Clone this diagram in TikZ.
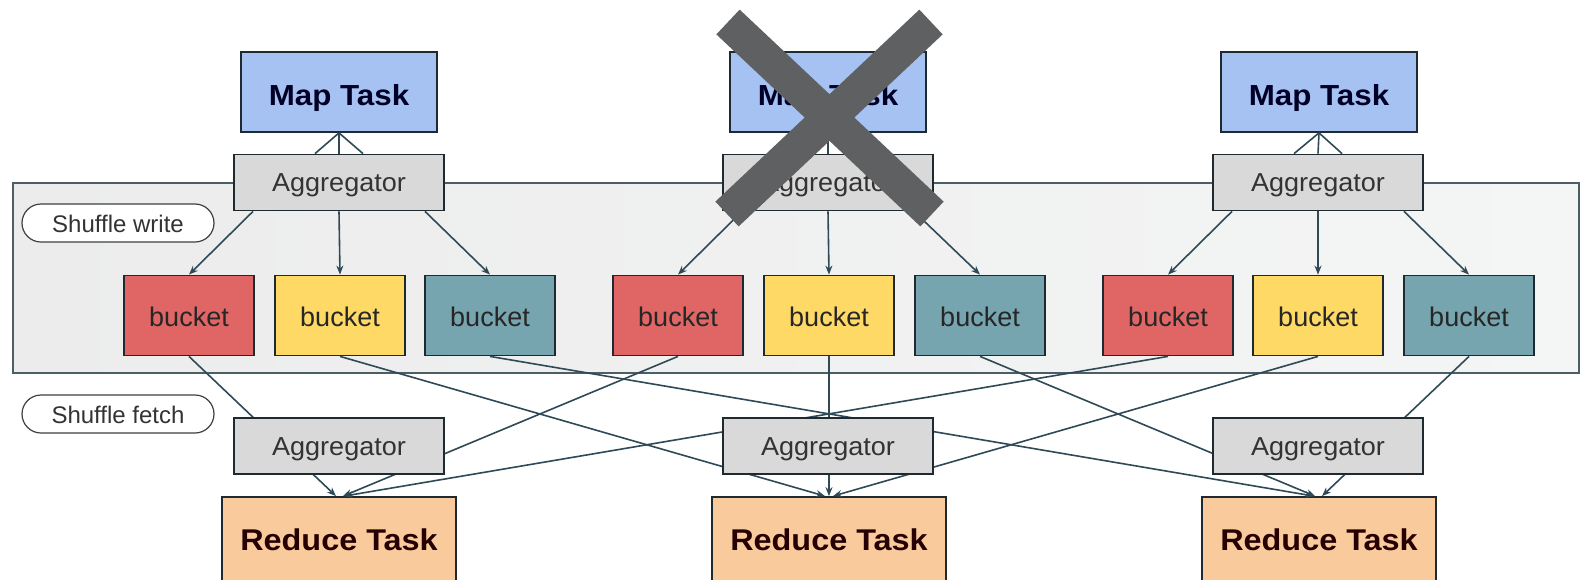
\documentclass[tikz,border=0pt]{standalone}
\usepackage{fontspec}
\setmainfont{Liberation Sans}
\newfontfamily\taskfont[FakeStretch=1.08]{Liberation Sans}
\newfontfamily\boxfont[FakeStretch=1.04]{Liberation Sans}
\usetikzlibrary{arrows.meta}

\definecolor{mapblue}{HTML}{A6C2F2}
\definecolor{agggray}{HTML}{D9D9D9}
\definecolor{bred}{HTML}{E06666}
\definecolor{byellow}{HTML}{FFD966}
\definecolor{bteal}{HTML}{76A5AF}
\definecolor{redorange}{HTML}{F9CB9C}
\definecolor{edgedark}{HTML}{1E2A30}
\definecolor{wire}{HTML}{2F4A56}
\definecolor{panelL}{HTML}{ECECEC}
\definecolor{panelR}{HTML}{F4F5F5}
\definecolor{panelline}{HTML}{4C5E66}
\definecolor{crossgray}{HTML}{5F6062}

\tikzset{
  box/.style={draw=edgedark, line width=1.8pt, inner sep=0pt, anchor=center},
  maptask/.style={box, fill=mapblue, minimum width=196pt, minimum height=80pt,
    font=\taskfont\fontsize{29}{34}\selectfont\bfseries, text=black!85!blue,
    text height=26pt, text depth=0pt},
  aggbox/.style={box, fill=agggray, minimum width=210pt, minimum height=56pt,
    font=\boxfont\fontsize{26}{31}\selectfont, text=black!80,
    text height=18pt, text depth=0pt},
  bucketbox/.style={box, minimum width=130pt, minimum height=80pt,
    font=\fontsize{27}{32}\selectfont, text=black!85,
    text height=22pt, text depth=0pt},
  reducetask/.style={box, fill=redorange, minimum width=234pt, minimum height=84pt,
    font=\taskfont\fontsize{30}{35}\selectfont\bfseries, text=black!85!red,
    text height=23pt, text depth=0pt},
  pill/.style={draw=black!75, line width=1.2pt, rounded corners=19pt, fill=white,
    minimum width=192pt, minimum height=38pt, inner sep=0pt,
    font=\fontsize{24}{28}\selectfont, text=black!80,
    text height=18pt, text depth=0pt},
  wireline/.style={draw=wire, line width=1.6pt},
  wirearrow/.style={wireline, -{Stealth[length=9pt,width=7pt]}},
}

\begin{document}
\begin{tikzpicture}[x=1pt,y=-1pt]
\useasboundingbox (0,0) rectangle (1581,579);
\fill[white] (0,0) rectangle (1581,579);

% shuffle-write band
\shade[left color=panelL, right color=panelR] (13,183) rectangle (1579,373);
\draw[panelline, line width=1.5pt] (13,183) rectangle (1579,373);

% map tasks and their aggregators
\node[maptask] (map1) at (339,92) {Map Task};
\node[maptask] (map2) at (828,92) {Map Task};
\node[maptask] (map3) at (1319,92) {Map Task};

\node[aggbox] (aggT1) at (339,182.5) {Aggregator};
\node[aggbox] (aggT2) at (828,182.5) {Aggregator};
\node[aggbox] (aggT3) at (1318,182.5) {Aggregator};

% buckets
\node[bucketbox, fill=bred]    (b11) at (189,315.5) {bucket};
\node[bucketbox, fill=byellow] (b12) at (340,315.5) {bucket};
\node[bucketbox, fill=bteal]   (b13) at (490,315.5) {bucket};
\node[bucketbox, fill=bred]    (b21) at (678,315.5) {bucket};
\node[bucketbox, fill=byellow] (b22) at (829,315.5) {bucket};
\node[bucketbox, fill=bteal]   (b23) at (980,315.5) {bucket};
\node[bucketbox, fill=bred]    (b31) at (1168,315.5) {bucket};
\node[bucketbox, fill=byellow] (b32) at (1318,315.5) {bucket};
\node[bucketbox, fill=bteal]   (b33) at (1469,315.5) {bucket};

% reduce tasks
\node[reducetask] (red1) at (339,539) {Reduce Task};
\node[reducetask] (red2) at (829,539) {Reduce Task};
\node[reducetask] (red3) at (1319,539) {Reduce Task};

% map -> aggregator
\foreach \i in {1,2,3}{
  \draw[wireline] (map\i.south) -- ([xshift=-24pt]aggT\i.north);
  \draw[wireline] (map\i.south) -- (aggT\i.north);
  \draw[wireline] (map\i.south) -- ([xshift=24pt]aggT\i.north);
}

% aggregator -> buckets
\foreach \i in {1,2,3}{
  \draw[wirearrow] ([xshift=-86pt]aggT\i.south) -- (b\i1.north);
  \draw[wirearrow] (aggT\i.south) -- (b\i2.north);
  \draw[wirearrow] ([xshift=86pt]aggT\i.south) -- (b\i3.north);
}

% buckets -> reduce tasks (fetch)
\draw[wirearrow] (b11.south) -- ([xshift=-3pt]red1.north);
\draw[wirearrow] (b21.south) -- ([xshift=4pt]red1.north);
\draw[wirearrow] (b31.south) -- ([xshift=5pt]red1.north);
\draw[wirearrow] (b12.south) -- ([xshift=-4pt]red2.north);
\draw[wirearrow] (b22.south) -- (red2.north);
\draw[wirearrow] (b32.south) -- ([xshift=4pt]red2.north);
\draw[wirearrow] (b13.south) -- ([xshift=-5pt]red3.north);
\draw[wirearrow] (b23.south) -- ([xshift=-4pt]red3.north);
\draw[wirearrow] (b33.south) -- ([xshift=3pt]red3.north);

% fetch-side aggregators sit over the wires
\node[aggbox] (aggB1) at (339,446) {Aggregator};
\node[aggbox] (aggB2) at (828,446) {Aggregator};
\node[aggbox] (aggB3) at (1318,446) {Aggregator};

% phase labels
\node[pill] (swrite) at (118,223) {Shuffle write};
\node[pill] (sfetch) at (118,414) {Shuffle fetch};

% failed map task
\draw[crossgray, line width=34pt] (728,22) -- (932,214);
\draw[crossgray, line width=34pt] (931,22) -- (727,214);
\end{tikzpicture}
\end{document}
